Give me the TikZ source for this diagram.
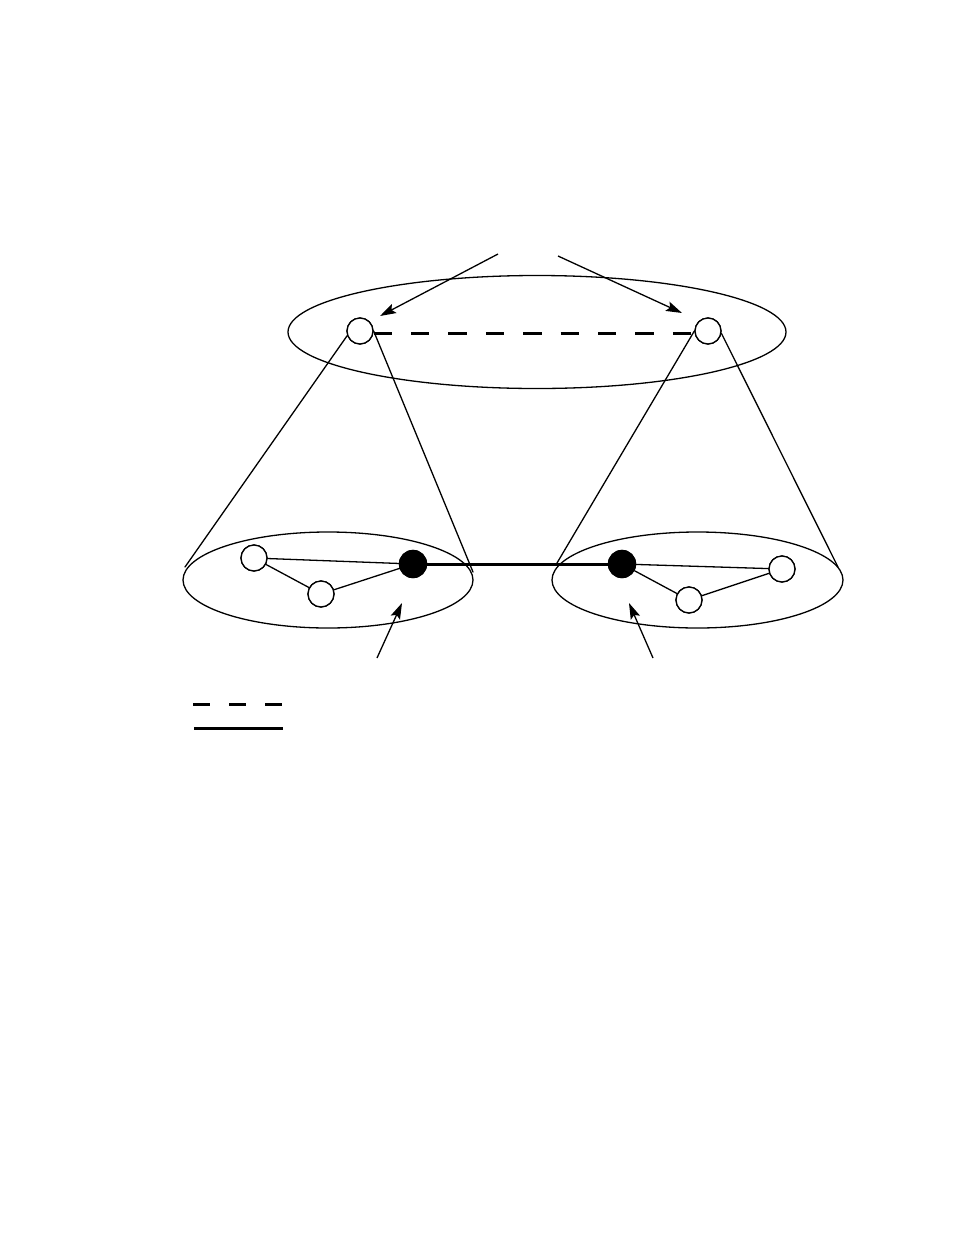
\documentclass[tikz,border=0pt]{standalone}
\usetikzlibrary{shapes.geometric,arrows.meta}
\begin{document}
\begin{tikzpicture}[x=1pt,y=-1pt,
  thinline/.style={line width=1.3pt, line cap=round},
  thickline/.style={line width=3pt},
  wnode/.style={circle, draw, line width=1.3pt, fill=white, minimum size=26pt, inner sep=0pt},
  bnode/.style={circle, draw, line width=1.3pt, fill=black, minimum size=27pt, inner sep=0pt},
  group/.style={ellipse, draw, line width=1.3pt, inner sep=0pt},
  pointer/.style={line width=1.3pt, -{Stealth[length=16pt,width=10pt,inset=3pt]}},
  dashline/.style={line width=3pt, dash pattern=on 18.3pt off 19.1pt}
]
\useasboundingbox (0,0) rectangle (954,1235);
% group ellipses
\node[group, minimum width=498pt, minimum height=113pt] (Etop) at (537,332) {};
\node[group, minimum width=290pt, minimum height=96pt] (Eleft) at (328,580) {};
\node[group, minimum width=291pt, minimum height=96pt] (Eright) at (697.5,580) {};
% top level nodes
\node[wnode] (tl) at (360,331) {};
\node[wnode] (tr) at (708,331) {};
% left subgraph
\node[wnode] (l1) at (254,558) {};
\node[wnode] (l2) at (321,594) {};
\node[bnode] (lb) at (413,564) {};
% right subgraph
\node[bnode] (rb) at (622,564) {};
\node[wnode] (r1) at (782,569) {};
\node[wnode] (r2) at (689,600) {};
% cone end points
\coordinate (cLL) at (185,567);
\coordinate (cLR) at (473,572);
\coordinate (cRL) at (557,563);
\coordinate (cRR) at (838,567);
% arrow tails and tips
\coordinate (a1s) at (498,254);
\coordinate (a1e) at (380,316);
\coordinate (a2s) at (558,256);
\coordinate (a2e) at (682,313);
\coordinate (a3s) at (377,658);
\coordinate (a3e) at (402,603);
\coordinate (a4s) at (653,658);
\coordinate (a4e) at (629,603);
% legend
\coordinate (g1s) at (193,704);
\coordinate (g1e) at (283,704);
\coordinate (g2s) at (194,728);
\coordinate (g2e) at (283,728);

% cones
\draw[thinline] (tl.200) -- (cLL);
\draw[thinline] (tl.east) -- (cLR);
\draw[thinline] (tr.west) -- (cRL);
\draw[thinline] (tr.-10) -- (cRR);
% edges
\draw[thinline] (l1) -- (lb);
\draw[thinline] (l1) -- (l2);
\draw[thinline] (l2) -- (lb);
\draw[thinline] (rb) -- (r1);
\draw[thinline] (rb) -- (r2);
\draw[thinline] (r2) -- (r1);
\draw[thickline] (lb) -- (rb);
\draw[dashline] ([yshift=-2pt]tl.east) -- ([yshift=-2pt]tr.west);
% redraw nodes on top
\node[wnode] at (tl) {};
\node[wnode] at (tr) {};
\node[wnode] at (l1) {};
\node[wnode] at (l2) {};
\node[bnode] at (lb) {};
\node[bnode] at (rb) {};
\node[wnode] at (r1) {};
\node[wnode] at (r2) {};
% pointers
\draw[pointer] (a1s) -- (a1e);
\draw[pointer] (a2s) -- (a2e);
\draw[pointer] (a3s) -- (a3e);
\draw[pointer] (a4s) -- (a4e);
% legend
\draw[line width=3pt, dash pattern=on 17pt off 19pt] (g1s) -- (g1e);
\draw[line width=3pt] (g2s) -- (g2e);
\end{tikzpicture}
\end{document}
